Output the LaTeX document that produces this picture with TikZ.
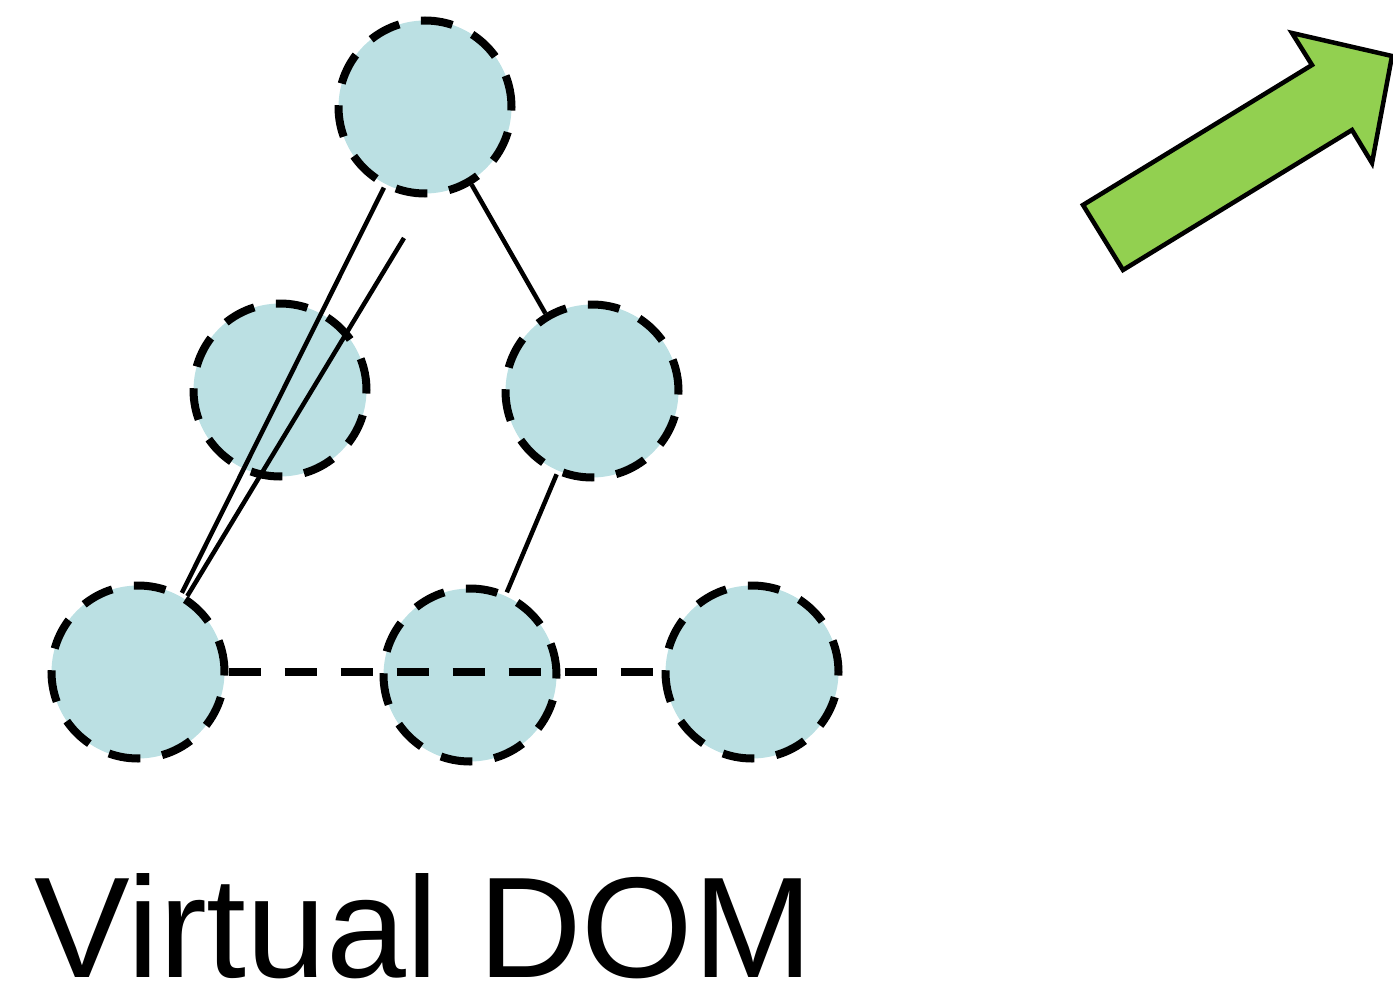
\documentclass[tikz,border=0pt]{standalone}
\usepackage{fontspec}
\setmainfont{Liberation Sans}
\definecolor{nodefill}{HTML}{BBE0E3}
\definecolor{arrowgreen}{HTML}{92D050}
\begin{document}
\begin{tikzpicture}[x=1pt,y=-1pt,
  vnode/.style={circle, fill=nodefill, draw=black, line width=8pt,
    dash pattern=on 32pt off 22pt, minimum size=173pt, inner sep=0pt},
  link/.style={draw=black, line width=4.5pt},
  sibling/.style={draw=black, line width=8.5pt, dash pattern=on 32pt off 24pt}]
\useasboundingbox (0,0) rectangle (1393,990);
% nodes
\node[vnode] (top) at (425,107) {};
\node[vnode] (ml) at (280,390) {};
\node[vnode] (mr) at (592,391) {};
\node[vnode] (bl) at (138,672) {};
\node[vnode] (bm) at (470,675) {};
\node[vnode] (br) at (752,672) {};
\coordinate (free) at (404,238);
% connectors
\draw[link] (top.243) -- (bl.61);
\draw[link] (free) -- (bl.57);
\draw[link] (top.301) -- (mr.121);
\draw[link] (mr.247) -- (bm.66);
\draw[sibling] (bl.east) -- (br.west);
% green arrow
\draw[fill=arrowgreen, draw=black, line width=4.5pt, line join=miter]
  (1083,205) -- (1312,65) -- (1292,33) -- (1392,56) -- (1372,163)
  -- (1352,130) -- (1123,270) -- cycle;
% label
\node[anchor=base west, inner sep=0pt, font=\fontsize{143.5}{160}\selectfont] (label) at (34,977) {Virtual DOM};
\end{tikzpicture}
\end{document}
